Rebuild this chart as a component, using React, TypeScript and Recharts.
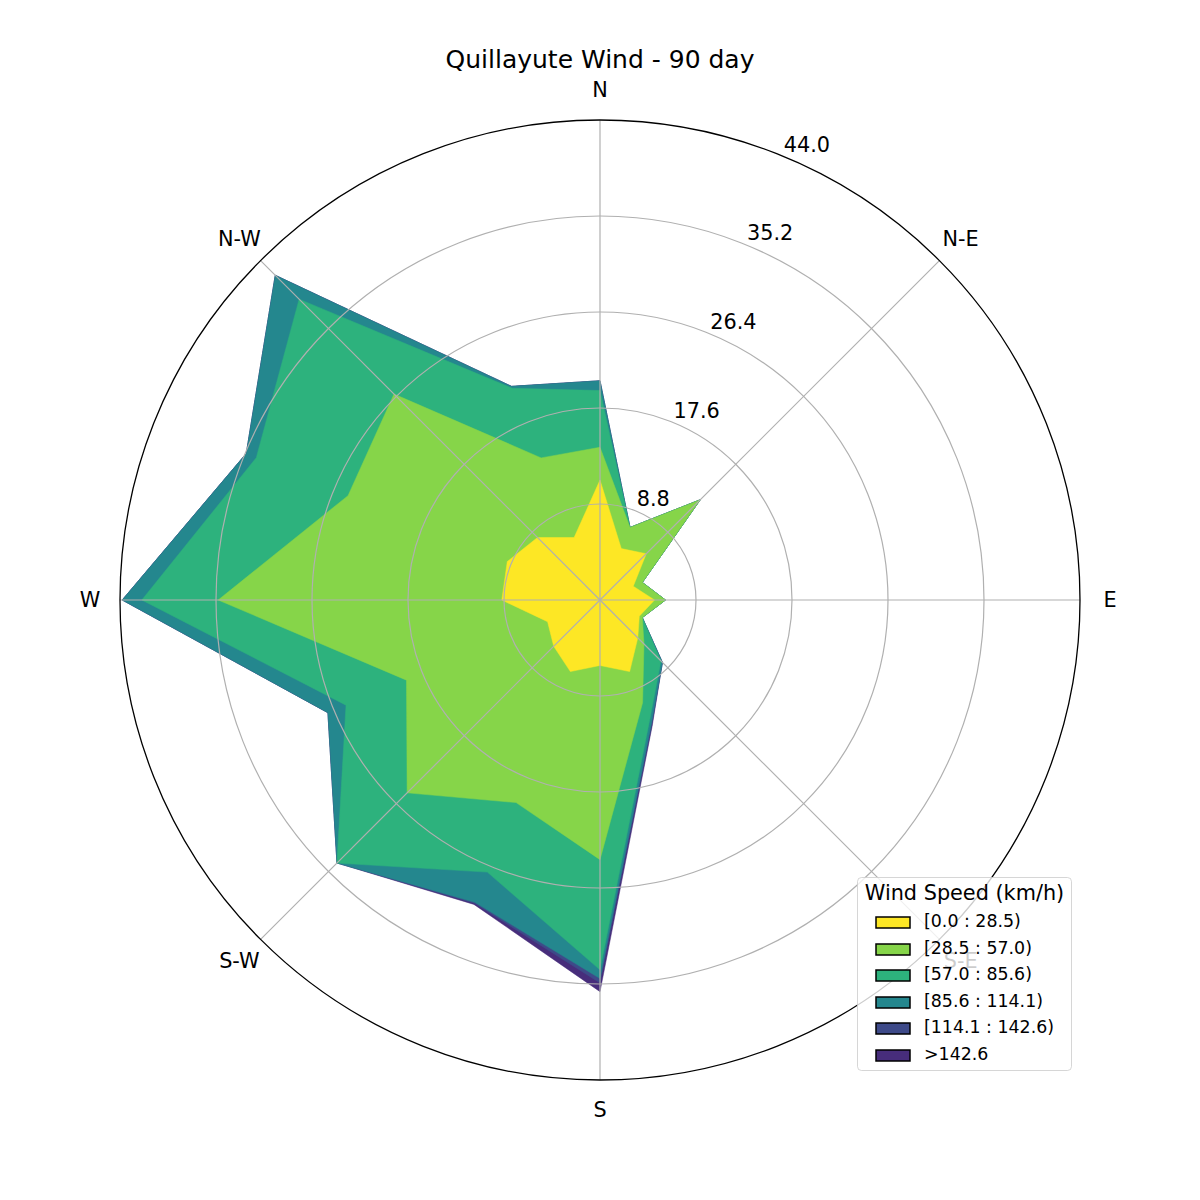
import React from 'react';
import { RadarChart, Radar, PolarGrid, PolarAngleAxis, PolarRadiusAxis } from 'recharts';

const directions = ['N', 'NNE', 'NE', 'ENE', 'E', 'ESE', 'SE', 'SSE', 'S', 'SSW', 'SW', 'WSW', 'W', 'WNW', 'NW', 'NNW'];
const directionTickLabels: Record<string, string> = { N: 'N', NE: 'N-E', E: 'E', SE: 'S-E', S: 'S', SW: 'S-W', W: 'W', NW: 'N-W' };
const speedBins = ['[0.0 : 28.5)', '[28.5 : 57.0)', '[57.0 : 85.6)', '[85.6 : 114.1)', '[114.1 : 142.6)', '>142.6'];
const binColors = ['#fde725', '#86d549', '#2db27d', '#24878e', '#3e4a89', '#472d7b'];
const radiusTicks = [8.8, 17.6, 26.4, 35.2, 44.0];

// frequency (%) per direction for each speed bin
const bin0 = [11.0, 5.1, 6.0, 3.3, 5.0, 3.9, 4.9, 7.1, 6.0, 7.1, 6.0, 5.2, 9.0, 9.2, 8.1, 6.2];
const bin1 = [3.0, 2.1, 7.0, 0.9, 1.0, 0.3, 0.8, 3.1, 17.8, 13.0, 19.0, 14.0, 26.0, 15.8, 18.6, 7.9];
const bin2 = [5.2, 0, 0, 0, 0, 0, 2.2, 1.7, 10.1, 6.9, 9.1, 6.0, 7.0, 9.1, 12.3, 6.9];
const bin3 = [0.9, 0, 0, 0, 0, 0, 0.2, 0.4, 0.8, 3.0, 0, 1.8, 1.8, 1.0, 3.1, 0.2];
const bin4 = [0, 0, 0, 0, 0, 0, 0, 0.1, 0.4, 0.1, 0, 0, 0, 0, 0, 0];
const bin5 = [0, 0, 0, 0, 0, 0, 0, 0.1, 0.8, 0.1, 0, 0, 0, 0, 0, 0];

const bins = [bin0, bin1, bin2, bin3, bin4, bin5];

const data = directions.map((dir, i) => {
  const row: Record<string, any> = { dir };
  let acc = 0;
  bins.forEach((b, k) => {
    acc += b[i];
    row[`c${k}`] = +acc.toFixed(2);
  });
  return row;
});

const FONT = 'DejaVu Sans, Verdana, sans-serif';

const AngleTick = (props: any) => {
  const { x, y, payload } = props;
  const label = directionTickLabels[payload.value];
  if (!label) return <g />;
  return (
    <text x={x} y={y} textAnchor="middle" dominantBaseline="central" fontSize={20.8} fontFamily={FONT} fill="#000">
      {label}
    </text>
  );
};

const RadiusTick = (props: any) => {
  const { x, y, payload } = props;
  if (!payload || payload.value === 0) return <g />;
  return (
    <text x={x} y={y - 12} textAnchor="start" dominantBaseline="central" fontSize={20.8} fontFamily={FONT} fill="#000">
      {Number(payload.value).toFixed(1)}
    </text>
  );
};

export default function App() {
  const order = [5, 4, 3, 2, 1, 0];
  const legendTop = 877;
  const rowTops = [917, 944, 970, 997, 1023, 1050];
  return (
    <div style={{ position: 'absolute', left: 0, top: 0, width: 1200, height: 1200, background: '#fff' }}>
      <RadarChart
        width={1200}
        height={1200}
        data={data}
        cx={600}
        cy={600}
        outerRadius={480}
        margin={{ top: 0, right: 0, bottom: 0, left: 0 }}
        startAngle={90}
        endAngle={-270}
      >
        <PolarRadiusAxis
          angle={67.5}
          domain={[0, 44]}
          type="number"
          ticks={radiusTicks}
          axisLine={false}
          tickLine={false}
          tick={<RadiusTick />}
        />
        {order.map((k) => (
          <Radar
            key={k}
            dataKey={`c${k}`}
            name={speedBins[k]}
            fill={binColors[k]}
            fillOpacity={1}
            stroke={binColors[k]}
            strokeWidth={0.5}
            dot={false}
            isAnimationActive={false}
          />
        ))}
        <PolarGrid
          gridType="circle"
          polarRadius={[96, 192, 288, 384]}
          polarAngles={[90, 45, 0, -45, -90, -135, 180, 135]}
          stroke="#b0b0b0"
          strokeWidth={1.2}
          {...({ zIndex: 1000 } as any)}
        />
        <PolarAngleAxis
          dataKey="dir"
          tickSize={30}
          tickLine={false}
          axisLineType="circle"
          axisLine={{ stroke: '#000', strokeWidth: 1.3 }}
          stroke="#000"
          tick={<AngleTick />}
          {...({ zIndex: 1100 } as any)}
        />
      </RadarChart>
      <svg width={1200} height={1200} style={{ position: 'absolute', left: 0, top: 0, pointerEvents: 'none' }}>
        <text x={600} y={68} textAnchor="middle" fontSize={25} fontFamily={FONT} fill="#000">
          Quillayute Wind - 90 day
        </text>
        <rect x={857.5} y={legendTop + 0.5} width={214} height={193} rx={4} ry={4} fill="#fff" fillOpacity={0.8} stroke="#cccccc" strokeOpacity={0.8} strokeWidth={1} />
        <text x={964.5} y={900} textAnchor="middle" fontSize={20.8} fontFamily={FONT} fill="#000">
          Wind Speed (km/h)
        </text>
        {speedBins.map((label, k) => (
          <g key={label}>
            <rect x={876} y={rowTops[k]} width={34} height={11} fill={binColors[k]} stroke="#000" strokeWidth={1.5} />
            <text x={924} y={rowTops[k] + 10} fontSize={17.4} fontFamily={FONT} fill="#000">
              {label}
            </text>
          </g>
        ))}
      </svg>
    </div>
  );
}
